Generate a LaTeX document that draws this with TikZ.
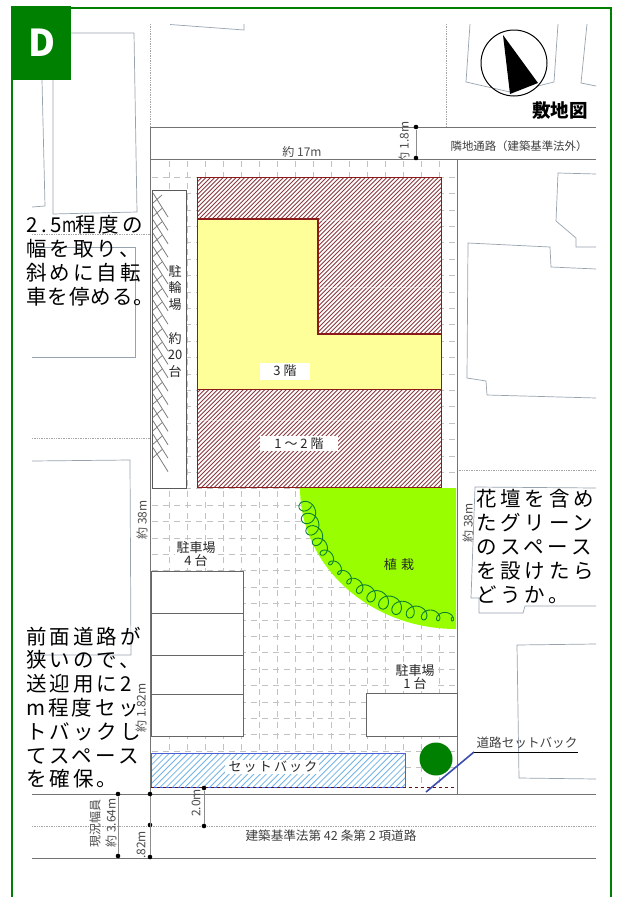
\documentclass[tikz,border=0pt]{standalone}
\usepackage{xcolor}
\usepackage{graphicx}
\usepackage{fontspec}
\usepackage{tikz}
\setmainfont{Noto Sans CJK JP}
\newfontfamily\notefont[LetterSpace=15]{Noto Sans CJK JP}
\definecolor{framegreen}{HTML}{008000}
\definecolor{roofred}{HTML}{8B1A1A}
\definecolor{hatchred}{HTML}{8A3A40}
\definecolor{wall}{HTML}{FFFF99}
\definecolor{lawn}{HTML}{99FF00}
\definecolor{vine}{HTML}{0A8030}
\definecolor{setblue}{HTML}{4A5FD8}
\definecolor{hatchblue}{HTML}{72B4E6}
\definecolor{nearby}{HTML}{97A4B0}
\newcommand{\hw}[1]{\makebox[12pt]{#1}}
\tikzset{
  neighbour/.style={draw=nearby,line width=0.7pt},
  roadline/.style={draw=black!55,line width=1pt},
  dotline/.style={draw=black!35,line width=0.7pt,densely dotted},
  gridline/.style={draw=black!24,line width=0.6pt,dash pattern=on 6pt off 5pt},
  bay/.style={draw=black!60,line width=1pt,fill=white},
  lab/.style={inner sep=0pt,font=\fontsize{13}{14}\selectfont,text=black!85,align=center},
  wide/.style={inner sep=0pt,font=\fontsize{12.6}{14}\selectfont,text=black!75},
  dimlab/.style={inner sep=0pt,font=\fontsize{12}{14}\selectfont,text=black!70},
  tag/.style={fill=white,inner sep=1.5pt,font=\fontsize{13}{15}\selectfont,text=black!85},
  note/.style={anchor=north west,inner sep=0pt,align=left,font=\notefont\fontsize{20.5}{23.8}\selectfont},
  blob/.style={circle,fill=black,inner sep=0pt,minimum size=4.6pt},
  dimline/.style={draw=black!45,line width=0.7pt}
}
\begin{document}
\begin{tikzpicture}[x=1pt,y=-1pt]
    \useasboundingbox (0,0) rectangle (616,897);
    \fill[white] (0,0) rectangle (616,897);

    \draw[neighbour] (170,24.5) -- (244,30) -- (244,24);
    \draw[neighbour] (71,33) -- (134,33) -- (137,212) -- (53,214) -- (53,80);
    \draw[neighbour] (42,80) -- (45,206) -- (32,207);
    \draw[neighbour] (32,247) -- (135,247) -- (135,357) -- (32,357);
    \draw[neighbour] (32,461) -- (130,460) -- (131,655) -- (30,655);
    \draw[neighbour] (470,24) -- (466,82) -- (510,92);
    \draw[neighbour] (538,86) -- (554,82) -- (558,24);
    \draw[neighbour] (587,24) -- (581,83) -- (596,86);
    \draw[neighbour] (596,174) -- (558,173) -- (556,221) -- (576,238) -- (576,247) -- (596,247);
    \draw[neighbour] (596,269) -- (551,267) -- (550,247) -- (468,243) -- (467,378) -- (486,381) -- (487,395) -- (596,398);
    \draw[neighbour] (596,488) -- (475,487) -- (471,598) -- (479,598) -- (479,613) -- (523,613) -- (525,606) -- (596,606);
    \draw[neighbour] (596,644) -- (517,645) -- (519,778) -- (596,779);
    \draw[dotline] (150.5,24) -- (150.5,127);
    \draw[dotline] (446,24) -- (446,127);
    \draw[dotline] (32,234) -- (150,234);
    \draw[dotline] (32,438) -- (150,438);
    \draw[dotline] (457,470) -- (596,470);

    \node[dimlab,rotate=90] (widthnorth) at (404,143) {約 1.8m};
    \fill[white] (150.5,159) rectangle (457,794);

    \foreach \gx in {0,...,15}
      \draw[gridline] (169+18*\gx,161) -- (169+18*\gx,787);
    \foreach \gy in {0,...,36}
      \draw[gridline] (152,177+16.4*\gy) -- (457,177+16.4*\gy);

    \draw[roadline] (150,127.5) -- (596,127.5);
    \draw[roadline] (150,159) -- (596,159);
    \draw[roadline] (32,794) -- (596,794);
    \draw[roadline] (32,858) -- (596,858);
    \draw[dotline] (32,826) -- (596,826);
    \draw[draw=black!55,line width=0.8pt] (150.5,127.5) -- (150.5,858);
    \draw[draw=black!55,line width=0.8pt] (457,159) -- (457,794);

    \draw[draw=black!65,line width=1pt,fill=white] (152.5,190) rectangle (186,488.5);
    \foreach \by in {0,...,19} {
      \draw[draw=black!50,line width=0.8pt] (153,193+13.4*\by) -- (168,217+13.4*\by);
      \draw[draw=black!50,line width=0.8pt] (153,203+13.4*\by) -- (162,195+13.4*\by);
    }

    \fill[white] (197.5,177.5) rectangle (441.5,487.5);
    \begin{scope}
      \clip (197.5,177.5) rectangle (441.5,487.5);
      \foreach \hk in {0,...,130}
        \draw[hatchred,line width=0.9pt] (-112.5+4.3*\hk,487.5) -- (197.5+4.3*\hk,177.5);
    \end{scope}
    \foreach \hy in {220,287,353,420}
      \draw[white,opacity=0.4,line width=0.4pt] (197.5,\hy) -- (441.5,\hy);
    \draw[roofred,line width=1.1pt] (197.5,177.5) rectangle (441.5,487.5);
    \draw[roofred,line width=1.1pt,fill=wall] (197.5,219) -- (318,219) -- (318,334) -- (441.5,334) -- (441.5,389.5) -- (197.5,389.5) -- cycle;

    \fill[lawn] (300,488) -- plot[domain=0:90,samples=40] ({456-156*cos(\x)},{488+141*sin(\x)}) -- (456,488) -- cycle;
    \draw[vine,line width=0.9pt]
      plot[smooth,domain=6:90,samples=300] ({456-151*cos(\x)+(6+2*sin(7*\x))*cos(66*\x)},{488+129*sin(\x)+(6+2*sin(7*\x))*sin(66*\x)});

    \foreach \py/\qy in {571/613,613/655,655/694.5,694.5/736}
      \draw[bay] (151.5,\py) rectangle (243,\qy);
    \draw[bay] (366,693) rectangle (457,736);

    \fill[white] (151,753) rectangle (405,787);
    \begin{scope}
      \clip (151,753) rectangle (405,787);
      \foreach \hk in {0,...,46}
        \draw[hatchblue,line width=0.8pt] (117+6.2*\hk,787) -- (151+6.2*\hk,753);
    \end{scope}
    \draw[setblue,line width=0.9pt] (151,753) rectangle (405,787);
    \draw[draw=roofred!70!black,line width=0.8pt,dashed] (151,787.5) -- (457,787.5);

    \fill[framegreen] (436,759) circle (16.5);

    \coordinate (leadfoot) at (426,792);
    \coordinate (leadbend) at (474,752);
    \coordinate (leadend) at (578,752);
    \draw[setblue!80!black,line width=1.6pt] (leadfoot) -- (leadbend);
    \draw[black,line width=0.8pt] (leadbend) -- (leadend);

    \node[wide] (roadcut) at (527,743) {道路セットバック};
    \node[tag] (setback) at (272,767) {\hspace{2pt}セ\,ッ\,ト\,バ\,ッ\,ク\hspace{2pt}};
    \node[lab,fill=white,inner sep=1.5pt] (parkfour) at (196,554) {駐車場\\[-1.5pt]4 台};
    \node[lab,fill=white,inner sep=1.5pt] (parkone) at (415,677) {駐車場\\[-1.5pt]1 台};
    \node[lab] (planting) at (399,565) {植\,\,栽};
    \node[tag,minimum width=50pt,minimum height=17pt] (floorthree) at (285,371) {3 階};
    \node[tag,minimum width=78pt,minimum height=14pt] (floorone) at (299,443.5) {1 〜 2 階};
    \node[lab] (bikea) at (175,272) {駐};
    \node[lab] (bikeb) at (175,288) {輪};
    \node[lab] (bikec) at (175,305) {場};
    \node[lab] (biked) at (175,339) {約};
    \node[lab] (bikee) at (175,355) {20};
    \node[lab] (bikef) at (175,372) {台};

    \node[dimlab] (widthtop) at (302,152) {約 17m};
    \node[wide,font=\fontsize{11.4}{14}\selectfont] (sidepath) at (519,146) {隣地通路（建築基準法外）};
    \node[wide] (roadname) at (331,836) {建築基準法第 42 条第 2 項道路};
    \node[dimlab,rotate=90] (depthleft) at (142,520) {約 38m};
    \node[dimlab,rotate=90] (deptright) at (468,523) {約 38m};
    \node[dimlab,rotate=90] (gapleft) at (141,708) {約 1.82m};
    \node[dimlab,rotate=90] (gapsouth) at (141,845) {.82m};
    \node[dimlab,rotate=90] (setwidth) at (196,803) {2.0m};
    \node[dimlab,rotate=90] (roadnow) at (95,823) {現況幅員};
    \node[dimlab,rotate=90] (roadsize) at (111,823) {約 3.64m};

    \node[blob] (na) at (416,127) {};
    \node[blob] (nb) at (416,158) {};
    \node[blob] (ra) at (118,794) {};
    \node[blob] (rb) at (118,856) {};
    \node[blob] (sa) at (150,794) {};
    \node[blob] (sb) at (150,825) {};
    \node[blob] (sc) at (150,857) {};
    \node[blob] (ta) at (204,788) {};
    \node[blob] (tb) at (204,826) {};
    \draw[dimline] (na) -- (nb);
    \draw[dimline] (ra) -- (rb);
    \draw[dimline] (sa) -- (sc);
    \draw[dimline] (ta) -- (tb);

    \draw[black,line width=1pt] (514,63) circle (33);
    \fill[black] (503,35) -- (510,94) -- (538,83) -- cycle;
    \node[inner sep=0pt,font=\fontsize{18.5}{20}\selectfont\bfseries] (sitemap) at (560,110) {敷地図};

    \node[note] (notebike) at (26,215.5) {\hw{2}\hw{.}\hw{5}\makebox[13pt][l]{\scalebox{0.75}[1]{m}}程度の\\幅を取り、\\斜めに自転\\\addfontfeature{LetterSpace=5}車を停める。};
    \node[note] (notegreen) at (476,489.5) {\addfontfeature{LetterSpace=19}花壇を含め\\\addfontfeature{LetterSpace=19}たグリーン\\\addfontfeature{LetterSpace=19}のスペース\\\addfontfeature{LetterSpace=19}を設けたら\\\addfontfeature{LetterSpace=19}どうか。};
    \node[note] (noteroad) at (26,626.5) {前面道路が\\狭いので、\\送迎用に2\\m程度セッ\\トバックし\\てスペース\\を確保。};

    \draw[framegreen,line width=2pt] (12,897) -- (12,7.5) -- (611,7.5) -- (611,897);
    \fill[framegreen] (11,6) rectangle (71,80);
    \node[inner sep=0pt,text=white,font=\fontsize{37}{40}\selectfont\bfseries] (badge) at (42,43) {D};
  \end{tikzpicture}
\end{document}
